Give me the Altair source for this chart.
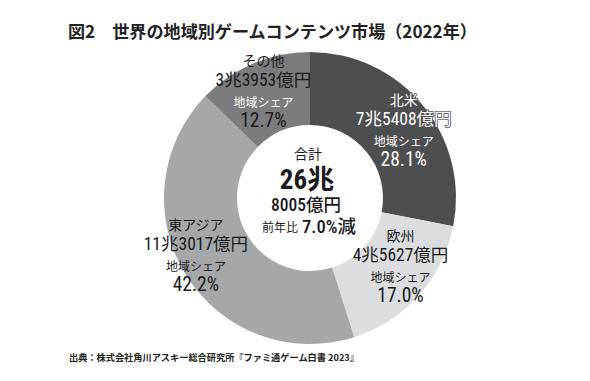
import altair as alt
import pandas as pd

# ---- data ----
regions = ["北米", "欧州", "東アジア", "その他"]
shares = [28.1, 17.0, 42.2, 12.7]
amount_labels = ["7兆5408億円", "4兆5627億円", "11兆3017億円", "3兆3953億円"]
share_labels = ["28.1%", "17.0%", "42.2%", "12.7%"]
share_caption = "地域シェア"
total_caption = "合計"
total_trillion = "26兆"
total_rest = "8005億円"
yoy_prefix = "前年比"
yoy_value = "7.0%減"
title_text = "図2　世界の地域別ゲームコンテンツ市場（2022年）"
source_text = "出典：株式会社角川アスキー総合研究所『ファミ通ゲーム白書 2023』"

# ---- styles ----
FONT = "Noto Sans CJK JP"
NUM_FONT = "Roboto Condensed, Liberation Sans Narrow, Noto Sans CJK JP"
colors = ["#4d4e50", "#dcdddf", "#a5a7a9", "#7b7c7e"]
W, H = 574, 365
CX, CY = 302, 190
R_IN, R_OUT = 73, 146
R_LABEL = 120

df = pd.DataFrame({
    "region": regions,
    "share": shares,
    "amount": amount_labels,
    "pct": share_labels,
    "caption": [share_caption] * len(regions),
    "order": list(range(len(regions))),
})

base = alt.Chart(df).encode(
    theta=alt.Theta("share:Q", stack=True),
    order=alt.Order("order:Q", sort="ascending"),
    x=alt.value(CX),
    y=alt.value(CY),
)

arcs = base.mark_arc(innerRadius=R_IN, outerRadius=R_OUT).encode(
    color=alt.Color("region:N", scale=alt.Scale(domain=regions, range=colors), legend=None)
)

# block offsets (dx, dy) per region relative to polar anchor
offsets = {"北米": (1, 9), "欧州": (1, -11), "東アジア": (-12, -6), "その他": (0, 4)}
# line spec: field, dy, size, font
line_specs = [
    ("region", -29.5, 14, FONT),
    ("amount", -10.5, 17.5, NUM_FONT),
    ("caption", 11.5, 12, FONT),
    ("pct", 29.5, 19.5, NUM_FONT),
]

def text_color(region, field):
    if region == "北米":
        return "white"
    if region == "その他" and field == "caption":
        return "white"
    return "#1a1a1a"

layers = [arcs]
for r in regions:
    ox, oy = offsets[r]
    for field, dy, size, fnt in line_specs:
        calc = base.transform_calculate(
            lbl=f"datum.region == '{r}' ? datum.{field} : ''"
        )
        common = dict(radius=R_LABEL, dx=ox, dy=oy + dy, fontSize=size, font=fnt,
                      align="center", baseline="middle")
        if r == "北米":
            # dark outline underneath so white text stays legible past the ring edge
            layers.append(calc.mark_text(color="#4d4e50", stroke="#4d4e50",
                                         strokeWidth=1.6, **common).encode(text="lbl:N"))
        layers.append(calc.mark_text(color=text_color(r, field), **common).encode(text="lbl:N"))

one = pd.DataFrame({"k": [0]})

def label(txt, x, y, size, weight="normal", align="center", color="#1a1a1a", fnt=FONT):
    return alt.Chart(one).transform_calculate(t=f"'{txt}'").mark_text(
        fontSize=size, fontWeight=weight, font=fnt, align=align,
        baseline="middle", color=color,
    ).encode(text="t:N", x=alt.value(x), y=alt.value(y))

layers += [
    label(total_caption, CX - 2, 147, 14),
    label(total_trillion, CX - 3, 173, 27, weight="bold", fnt=NUM_FONT),
    label(total_rest, CX - 4, 198, 17.5, weight=500, fnt=NUM_FONT),
    label(yoy_prefix, CX - 12, 220, 12, align="right"),
    label(yoy_value, CX - 8, 219, 18.5, weight=500, align="left", fnt=NUM_FONT),
    label(title_text, 60, 25, 17.1, weight="bold", align="left", color="#222222"),
    label(source_text, 61, 350, 9.2, weight="bold", align="left", color="#222222"),
]

chart = alt.layer(*layers).properties(
    width=W, height=H, padding=0, autosize="none", background="white"
).configure_view(stroke=None)

chart.save("out.html", embed_options={"renderer": "svg", "actions": False})
